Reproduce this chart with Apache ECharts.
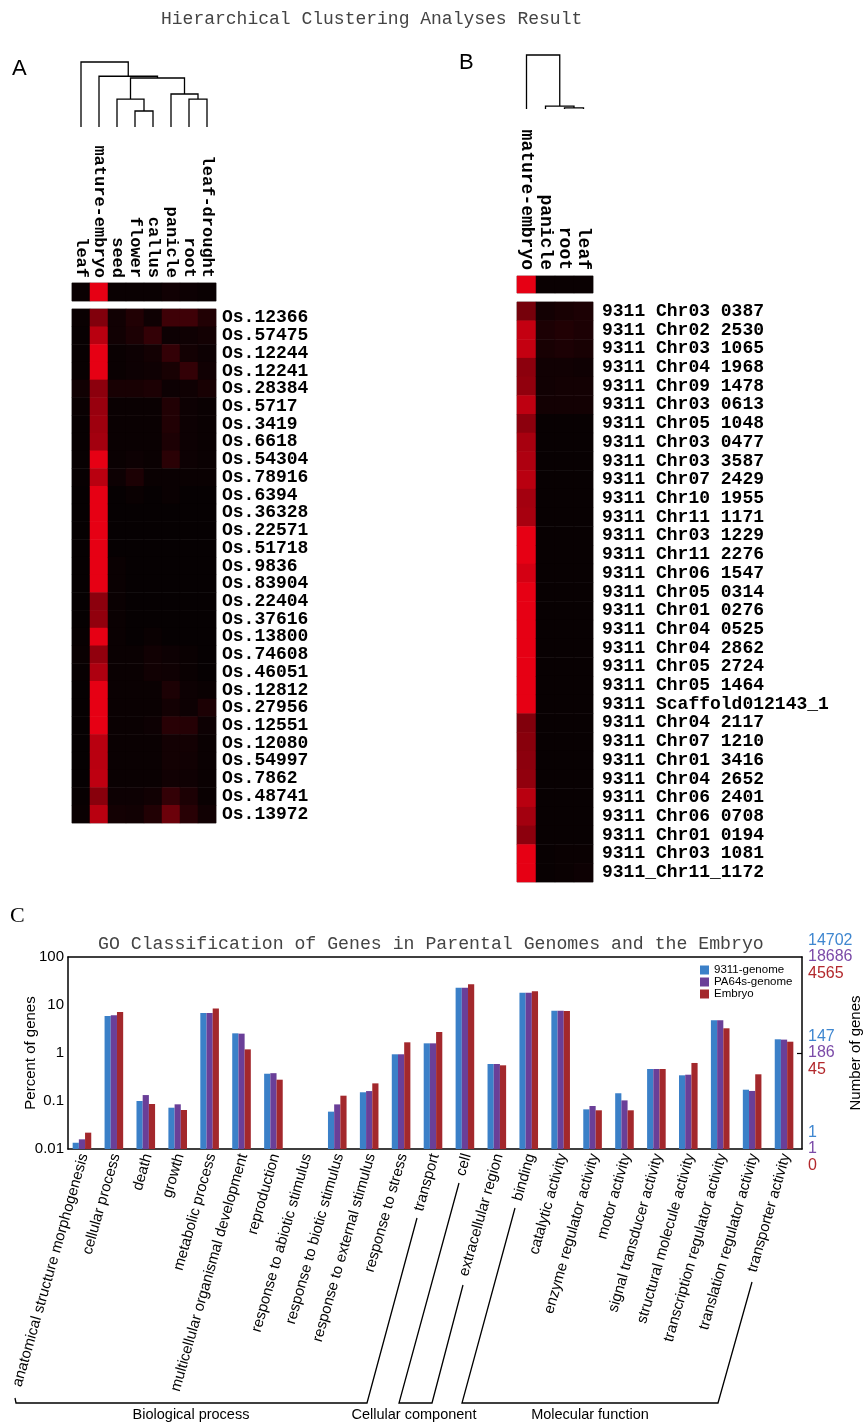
<!DOCTYPE html>
<html><head><meta charset="utf-8">
<script src="https://cdn.jsdelivr.net/npm/echarts@6/dist/echarts.min.js"></script>
<style>html,body{margin:0;padding:0;background:#fff}#c{width:866px;height:1424px}</style>
</head><body><div id="c"></div>
<script>
// ---------- Panel A ----------
const tissuesA = ['leaf','mature-embryo','seed','flower','callus','panicle','root','leaf-drought'];
const genesA = ['Os.12366','Os.57475','Os.12244','Os.12241','Os.28384','Os.5717','Os.3419','Os.6618','Os.54304','Os.78916','Os.6394','Os.36328','Os.22571','Os.51718','Os.9836','Os.83904','Os.22404','Os.37616','Os.13800','Os.74608','Os.46051','Os.12812','Os.27956','Os.12551','Os.12080','Os.54997','Os.7862','Os.48741','Os.13972'];
const summaryA = [0.02,1,0.02,0.02,0.02,0.05,0.03,0.02];
const aLeaf    = [0.02,0.01,0.01,0.01,0.05,0.02,0.01,0.01,0.01,0.01,0,0,0,0,0,0,0,0,0.01,0.02,0.01,0,0,0,0,0,0,0.01,0.02];
const aEmbryo  = [0.55,0.8,1,1,0.6,0.65,0.68,0.7,1,0.8,1,1,1,1,1,1,0.6,0.62,1,0.62,0.75,1,1,1,0.8,0.8,0.82,0.58,0.8];
const aSeed    = [0.05,0.05,0.02,0.02,0.08,0.02,0.02,0.02,0.02,0.03,0,0,0,0,0.02,0.02,0.02,0.02,0.02,0.02,0.02,0.02,0.02,0.02,0.02,0.02,0.02,0.03,0.06];
const aFlower  = [0.12,0.1,0.03,0.03,0.08,0.02,0.02,0.02,0.03,0.1,0.02,0,0,0,0,0,0,0,0,0.02,0.02,0.02,0.02,0.02,0.02,0.02,0.02,0.03,0.05];
const aCallus  = [0.04,0.2,0.06,0.04,0.1,0.02,0.02,0.02,0.02,0.02,0,0,0,0,0,0,0,0,0.02,0.05,0.05,0.02,0.02,0.03,0.02,0.02,0.02,0.05,0.12];
const aPanicle = [0.25,0.03,0.2,0.08,0.03,0.12,0.12,0.1,0.16,0.02,0.02,0,0,0,0,0,0,0,0,0.03,0.04,0.1,0.06,0.15,0.06,0.06,0.05,0.2,0.45];
const aRoot    = [0.25,0.04,0.06,0.2,0.04,0.03,0.03,0.03,0.03,0.02,0,0,0,0,0,0,0,0,0,0.02,0.02,0.03,0.03,0.14,0.06,0.05,0.04,0.1,0.15];
const aDrought = [0.12,0.06,0.03,0.05,0.08,0.02,0.02,0.02,0.02,0.02,0,0,0,0,0,0,0,0,0,0,0,0.02,0.1,0.03,0.02,0.02,0.02,0.02,0.05];
// dendrogram A: nodes 0..7 leaves, merges numbered 8..
const dendroALeft   = [3,2,6,5,9,1,0];
const dendroARight  = [4,8,7,10,11,12,13];
const dendroAHeight = [0.315,0.55,0.55,0.65,0.965,1.0,1.28];

// ---------- Panel B ----------
const tissuesB = ['mature-embryo','panicle','root','leaf'];
const genesB = ['9311 Chr03 0387','9311 Chr02 2530','9311 Chr03 1065','9311 Chr04 1968','9311 Chr09 1478','9311 Chr03 0613','9311 Chr05 1048','9311 Chr03 0477','9311 Chr03 3587','9311 Chr07 2429','9311 Chr10 1955','9311 Chr11 1171','9311 Chr03 1229','9311 Chr11 2276','9311 Chr06 1547','9311 Chr05 0314','9311 Chr01 0276','9311 Chr04 0525','9311 Chr04 2862','9311 Chr05 2724','9311 Chr05 1464','9311 Scaffold012143_1','9311 Chr04 2117','9311 Chr07 1210','9311 Chr01 3416','9311 Chr04 2652','9311 Chr06 2401','9311 Chr06 0708','9311 Chr01 0194','9311 Chr03 1081','9311_Chr11_1172'];
const summaryB = [1,0.02,0.02,0.02];
const bEmbryo  = [0.5,0.85,0.85,0.6,0.62,0.82,0.6,0.72,0.75,0.8,0.7,0.72,1,1,0.92,1,1,1,1,1,1,1,0.55,0.58,0.6,0.62,0.8,0.7,0.6,1,1];
const bPanicle = [0.06,0.1,0.08,0.05,0.05,0.06,0.01,0.01,0.01,0.01,0.01,0.01,0.01,0.01,0.01,0.01,0.01,0.01,0.01,0.01,0.01,0.01,0.01,0.01,0.01,0.01,0.01,0.01,0.01,0.01,0.01];
const bRoot    = [0.08,0.12,0.1,0.05,0.06,0.06,0.01,0.01,0.01,0.01,0.01,0.01,0.01,0.01,0.01,0.01,0.01,0.01,0.01,0.01,0.01,0.01,0.01,0.01,0.01,0.01,0.01,0.01,0.01,0.02,0.02];
const bLeaf    = [0.1,0.1,0.08,0.04,0.06,0.06,0.01,0.01,0.01,0.01,0.01,0.01,0.01,0.01,0.01,0.01,0.01,0.01,0.01,0.01,0.01,0.01,0.01,0.01,0.01,0.01,0.01,0.01,0.01,0.02,0.03];
const dendroBLeft   = [2,1,0];
const dendroBRight  = [3,4,5];
const dendroBHeight = [0.02,0.055,1.0];

// ---------- Panel C ----------
const goCategories = ['anatomical structure morphogenesis','cellular process','death','growth','metabolic process','multicellular organismal development','reproduction','response to abiotic stimulus','response to biotic stimulus','response to external stimulus','response to stress','transport','cell','extracellular region','binding','catalytic activity','enzyme regulator activity','motor activity','signal transducer activity','structural molecule activity','transcription regulator activity','translation regulator activity','transporter activity'];
const pct9311   = [0.0135,5.9,0.1,0.0725,6.8,2.57,0.37,0,0.06,0.152,0.94,1.59,22.9,0.59,18.0,7.6,0.067,0.145,0.464,0.343,4.79,0.172,1.93];
const pctPA64s  = [0.0159,6.1,0.133,0.0853,6.8,2.53,0.38,0,0.085,0.161,0.94,1.59,22.9,0.59,18.0,7.6,0.0787,0.103,0.464,0.353,4.79,0.162,1.90];
const pctEmbryo = [0.0219,7.15,0.0866,0.065,8.5,1.19,0.278,0,0.129,0.233,1.67,2.74,26.9,0.554,19.3,7.5,0.064,0.064,0.464,0.62,3.27,0.36,1.72];
const pctTicks  = ['0.01','0.1','1','10','100'];
const countTicks  = [0.01, 1, 100];
const count9311   = ['1','147','14702'];
const countPA64s  = ['1','186','18686'];
const countEmbryo = ['0','45','4565'];

// ---------- helpers ----------
function heatData(cols){
  const out=[];
  cols.forEach((col,x)=>col.forEach((v,y)=>out.push([x,y,v])));
  return out;
}
function dendroItems(nLeaves,left,right,height){
  const pos=[],h=[],items=[];
  for(let i=0;i<nLeaves;i++){pos[i]=i;h[i]=0;}
  for(let k=0;k<left.length;k++){
    const a=left[k],b=right[k];
    items.push([pos[a],pos[b],h[a],h[b],height[k]]);
    pos[nLeaves+k]=(pos[a]+pos[b])/2; h[nLeaves+k]=height[k];
  }
  return items;
}
function dendroRender(params,api){
  const xl=api.value(0),xr=api.value(1),hl=api.value(2),hr=api.value(3),hm=api.value(4);
  const p=[api.coord([xl,hl]),api.coord([xl,hm]),api.coord([xr,hm]),api.coord([xr,hr])];
  return {type:'polyline',shape:{points:p},style:{stroke:'#000',lineWidth:1.3,fill:null}};
}
function barRender(idx){
  return function(params,api){
    const v=api.value(1);
    if(!(v>0)) return null;
    const c=api.value(0);
    const top=api.coord([c,v]), base=api.coord([c,0.01]);
    const w=6.2;
    return {type:'rect',shape:{x:top[0]-1.5*w-2+idx*w,y:top[1],width:w,height:base[1]-top[1]},
      style:{fill:api.visual('color')}};
  };
}
const mono='"Liberation Mono","DejaVu Sans Mono",monospace';
const sans='"Liberation Sans",Arial,sans-serif';
const hidden={show:false};
const heatGridStyle={show:true,borderColor:'#999',borderWidth:1,backgroundColor:'transparent',outerBoundsMode:'none'};

const chart=echarts.init(document.getElementById('c'),null,{renderer:'canvas'});
const option={
  animation:false,
  backgroundColor:'#fff',
  title:[
    {text:'Hierarchical Clustering Analyses Result',left:156,top:5,textStyle:{fontFamily:mono,fontSize:18,fontWeight:'normal',color:'#444'}},
    {text:'GO Classification of Genes in Parental Genomes and the Embryo',left:93,top:930,textStyle:{fontFamily:mono,fontSize:18.2,fontWeight:'normal',color:'#444'}}
  ],
  grid:[
    {left:72,top:61,width:144,height:66,outerBoundsMode:'none'},                 // 0 dendro A
    Object.assign({left:72,top:283,width:144,height:18},heatGridStyle), // 1 summary A
    Object.assign({left:72,top:309,width:144,height:514},heatGridStyle),// 2 heat A
    {left:517,top:55,width:76,height:54,outerBoundsMode:'none'},                 // 3 dendro B
    Object.assign({left:517,top:276,width:76,height:17},heatGridStyle), // 4 summary B
    Object.assign({left:517,top:302,width:76,height:580},heatGridStyle),// 5 heat B
    {left:68,top:957,width:734,height:192,outerBoundsMode:'none'}                // 6 bars
  ],
  xAxis:[
    {gridIndex:0,type:'value',min:-0.5,max:7.5,show:false},
    {gridIndex:1,type:'category',data:tissuesA,position:'top',axisLine:hidden,axisTick:hidden,
      axisLabel:{interval:0,rotate:90,margin:5,fontFamily:mono,fontWeight:'bold',fontSize:17,color:'#000'}},
    {gridIndex:2,type:'category',data:tissuesA,show:false},
    {gridIndex:3,type:'value',min:-0.5,max:3.5,show:false},
    {gridIndex:4,type:'category',data:tissuesB,position:'top',axisLine:hidden,axisTick:hidden,
      axisLabel:{interval:0,rotate:90,margin:6,fontFamily:mono,fontWeight:'bold',fontSize:18,color:'#000'}},
    {gridIndex:5,type:'category',data:tissuesB,show:false},
    {gridIndex:6,type:'category',data:goCategories,position:'bottom',boundaryGap:true,
      axisLine:{lineStyle:{color:'#000',width:1.5}},
      axisTick:{inside:true,length:5,lineStyle:{color:'#000',width:1.2}},
      axisLabel:{interval:0,rotate:74,margin:5,fontFamily:sans,fontSize:15,color:'#000'}},
    {gridIndex:6,type:'category',data:goCategories,position:'top',boundaryGap:true,
      axisLine:{lineStyle:{color:'#000',width:1.5}},
      axisTick:{inside:true,length:5,lineStyle:{color:'#000',width:1.2}},
      axisLabel:hidden}
  ],
  yAxis:[
    {gridIndex:0,type:'value',min:0,max:1.3,show:false},
    {gridIndex:1,type:'category',data:['all'],show:false},
    {gridIndex:2,type:'category',data:genesA,inverse:true,position:'right',axisLine:hidden,axisTick:hidden,
      axisLabel:{interval:0,margin:6,fontFamily:mono,fontWeight:'bold',fontSize:18,color:'#000'}},
    {gridIndex:3,type:'value',min:0,max:1,show:false},
    {gridIndex:4,type:'category',data:['all'],show:false},
    {gridIndex:5,type:'category',data:genesB,inverse:true,position:'right',axisLine:hidden,axisTick:hidden,
      axisLabel:{interval:0,margin:9,fontFamily:mono,fontWeight:'bold',fontSize:18,color:'#000'}},
    {gridIndex:6,type:'log',logBase:10,min:0.01,max:100,position:'left',
      name:'Percent of genes',nameLocation:'middle',nameRotate:90,nameGap:30,nameMoveOverlap:false,
      nameTextStyle:{fontFamily:sans,fontSize:15,color:'#000'},
      axisLine:{show:true,lineStyle:{color:'#000',width:1.5}},axisTick:hidden,splitLine:hidden,
      axisLabel:{showMinLabel:true,showMaxLabel:true,margin:4,fontFamily:sans,fontSize:15,color:'#000',
        formatter:v=>pctTicks[Math.round(Math.log10(v))+2]}},
    {gridIndex:6,type:'log',logBase:10,min:0.01,max:100,position:'right',
      name:'Number of genes',nameLocation:'middle',nameRotate:90,nameGap:46,nameMoveOverlap:false,
      nameTextStyle:{fontFamily:sans,fontSize:15,color:'#000'},
      axisLine:{show:true,lineStyle:{color:'#000',width:1.5}},
      axisTick:{show:true,inside:true,length:5,customValues:[1],lineStyle:{color:'#000',width:1.2}},
      splitLine:hidden,
      axisLabel:{showMinLabel:true,showMaxLabel:true,margin:6,fontFamily:sans,fontSize:16,
        formatter:v=>{
          const e=Math.round(Math.log10(v));
          const k=countTicks.findIndex(t=>Math.round(Math.log10(t))===e);
          if(k<0) return '';
          return '{a|'+count9311[k]+'}\n{b|'+countPA64s[k]+'}\n{c|'+countEmbryo[k]+'}';
        },
        rich:{a:{color:'#3f87d0',fontFamily:sans,fontSize:16,lineHeight:16.5},
              b:{color:'#7b4ba8',fontFamily:sans,fontSize:16,lineHeight:16.5},
              c:{color:'#b3282c',fontFamily:sans,fontSize:16,lineHeight:16.5}}}}
  ],
  visualMap:{show:false,type:'continuous',min:0,max:1,seriesIndex:[2,3,4,5],
    inRange:{color:['#060102','#e60014']}},
  legend:{orient:'vertical',left:700,top:964,padding:0,itemWidth:9,itemHeight:9,itemGap:0,icon:'rect',
    textStyle:{fontFamily:sans,fontSize:11.5,lineHeight:11,color:'#000'},
    data:['9311-genome','PA64s-genome','Embryo']},
  series:[
    {type:'custom',xAxisIndex:0,yAxisIndex:0,renderItem:dendroRender,data:dendroItems(8,dendroALeft,dendroARight,dendroAHeight),silent:true},
    {type:'custom',xAxisIndex:3,yAxisIndex:3,renderItem:dendroRender,data:dendroItems(4,dendroBLeft,dendroBRight,dendroBHeight),silent:true},
    {type:'heatmap',xAxisIndex:1,yAxisIndex:1,data:summaryA.map((v,i)=>[i,0,v]),silent:true},
    {type:'heatmap',xAxisIndex:2,yAxisIndex:2,data:heatData([aLeaf,aEmbryo,aSeed,aFlower,aCallus,aPanicle,aRoot,aDrought]),silent:true},
    {type:'heatmap',xAxisIndex:4,yAxisIndex:4,data:summaryB.map((v,i)=>[i,0,v]),silent:true},
    {type:'heatmap',xAxisIndex:5,yAxisIndex:5,data:heatData([bEmbryo,bPanicle,bRoot,bLeaf]),silent:true},
    {name:'9311-genome',type:'custom',xAxisIndex:6,yAxisIndex:6,renderItem:barRender(0),itemStyle:{color:'#3b80c8'},
      encode:{x:0,y:1},data:pct9311.map((v,i)=>[i,v])},
    {name:'PA64s-genome',type:'custom',xAxisIndex:6,yAxisIndex:6,renderItem:barRender(1),itemStyle:{color:'#6a3f98'},
      encode:{x:0,y:1},data:pctPA64s.map((v,i)=>[i,v])},
    {name:'Embryo',type:'custom',xAxisIndex:6,yAxisIndex:6,renderItem:barRender(2),itemStyle:{color:'#a3282c'},
      encode:{x:0,y:1},data:pctEmbryo.map((v,i)=>[i,v])}
  ],
  graphic:[
    {type:'text',left:12,top:58,style:{text:'A',font:'22px "Liberation Sans"',fill:'#000'}},
    {type:'text',left:459,top:52,style:{text:'B',font:'22px "Liberation Sans"',fill:'#000'}},
    {type:'text',left:10,top:905,style:{text:'C',font:'22px "Liberation Serif"',fill:'#000'}},
    {type:'polyline',shape:{points:[[15,1398],[16,1403],[367,1403],[417,1218]]},style:{stroke:'#000',lineWidth:1.3,fill:null}},
    {type:'polyline',shape:{points:[[459,1183],[399,1403],[432,1403],[463,1285]]},style:{stroke:'#000',lineWidth:1.3,fill:null}},
    {type:'polyline',shape:{points:[[515,1208],[462,1403],[718,1403],[752,1282]]},style:{stroke:'#000',lineWidth:1.3,fill:null}},
    {type:'text',x:191,y:1415,style:{text:'Biological process',font:'14.5px "Liberation Sans"',fill:'#000',align:'center',verticalAlign:'middle'}},
    {type:'text',x:414,y:1415,style:{text:'Cellular component',font:'14.5px "Liberation Sans"',fill:'#000',align:'center',verticalAlign:'middle'}},
    {type:'text',x:590,y:1415,style:{text:'Molecular function',font:'14.5px "Liberation Sans"',fill:'#000',align:'center',verticalAlign:'middle'}}
  ]
};
chart.setOption(option);
</script></body></html>
